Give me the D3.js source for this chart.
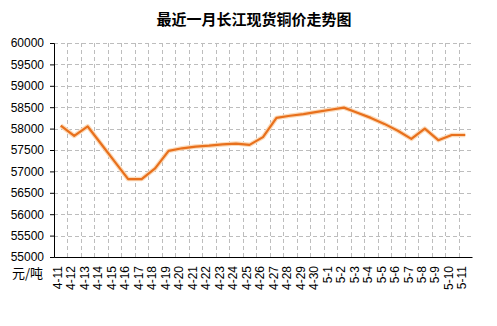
<!DOCTYPE html>
<html>
<head>
<meta charset="utf-8">
<script src="https://cdn.jsdelivr.net/npm/d3@7"></script>
<style>
  body { margin: 0; background: #fff; }
</style>
</head>
<body>
<div id="chart"></div>
<script>
// data
const dates = ["4-11","4-12","4-13","4-14","4-15","4-16","4-17","4-18","4-19","4-20",
  "4-21","4-22","4-23","4-24","4-25","4-26","4-27","4-28","4-29","4-30",
  "5-1","5-2","5-3","5-4","5-5","5-6","5-7","5-8","5-9","5-10","5-11"];
const prices = [58070, 57830, 58050, 57640, 57230, 56820, 56820, 57070, 57480, 57540,
  57580, 57600, 57630, 57650, 57620, 57800, 58250, 58300, 58340, 58390,
  58440, 58490, 58370, 58250, 58110, 57950, 57760, 58000, 57730, 57850, 57850];
const yTicks = [55000, 55500, 56000, 56500, 57000, 57500, 58000, 58500, 59000, 59500, 60000];

const W = 497, H = 326;
const margin = { top: 43, left: 54, right: 25, bottom: 69 };
const width = W - margin.left - margin.right;
const height = H - margin.top - margin.bottom;

const svg = d3.select("#chart")
  .append("svg")
  .attr("width", W)
  .attr("height", H)
  .style("font-family", "'Liberation Sans', Arial, sans-serif");

svg.append("text")
  .attr("x", 254)
  .attr("y", 25)
  .attr("text-anchor", "middle")
  .attr("font-size", "15px")
  .attr("font-weight", "bold")
  .style("font-family", "'Noto Sans CJK SC', sans-serif")
  .text("最近一月长江现货铜价走势图");

const g = svg.append("g")
  .attr("transform", `translate(${margin.left},${margin.top})`);

const x = d3.scaleBand()
  .domain(dates)
  .range([0, width]);

const y = d3.scaleLinear()
  .domain([55000, 60000])
  .range([height, 0]);

// horizontal grid
g.selectAll(".hgrid")
  .data(yTicks.slice(1))
  .join("line")
  .attr("x1", 0)
  .attr("x2", width)
  .attr("y1", d => Math.round(y(d)) + 0.5)
  .attr("y2", d => Math.round(y(d)) + 0.5)
  .attr("stroke", "#bdbdbd")
  .attr("stroke-dasharray", "4,3");

// vertical grid on band edges
g.selectAll(".vgrid")
  .data(dates.slice(1))
  .join("line")
  .attr("x1", d => Math.round(x(d)) + 0.5)
  .attr("x2", d => Math.round(x(d)) + 0.5)
  .attr("y1", 0)
  .attr("y2", height)
  .attr("stroke", "#bdbdbd")
  .attr("stroke-dasharray", "4,3");

// y axis
const yAxis = g.append("g")
  .call(d3.axisLeft(y).tickValues(yTicks).tickSize(4).tickPadding(6).tickFormat(d3.format("d")));
yAxis.select(".domain").attr("stroke", "#000");
yAxis.selectAll("text").attr("font-size", "12px").attr("fill", "#000");

// x axis
const xAxis = g.append("g")
  .attr("transform", `translate(0,${height})`)
  .call(d3.axisBottom(x).tickSize(0).tickSizeOuter(0).tickPadding(0));
xAxis.select(".domain").attr("stroke", "#000");
xAxis.selectAll("text")
  .attr("font-size", "12px")
  .attr("fill", "#000")
  .attr("text-anchor", "end")
  .attr("transform", "rotate(-90)")
  .attr("x", -9)
  .attr("y", -3)
  .attr("dy", "0.35em");

svg.append("text")
  .attr("x", 43)
  .attr("y", 278)
  .attr("text-anchor", "end")
  .attr("font-size", "13px")
  .style("font-family", "'Noto Sans CJK SC', sans-serif")
  .text("元/吨");

// price line
const line = d3.line()
  .x((d, i) => x(dates[i]) + x.bandwidth() / 2)
  .y(d => y(d));

g.append("path")
  .datum(prices)
  .attr("fill", "none")
  .attr("stroke", "#fbd9b8")
  .attr("stroke-width", 4.5)
  .attr("stroke-linejoin", "round")
  .attr("d", line);

g.append("path")
  .datum(prices)
  .attr("fill", "none")
  .attr("stroke", "#e8701c")
  .attr("stroke-width", 2.2)
  .attr("stroke-linejoin", "round")
  .attr("d", line);
</script>
</body>
</html>
